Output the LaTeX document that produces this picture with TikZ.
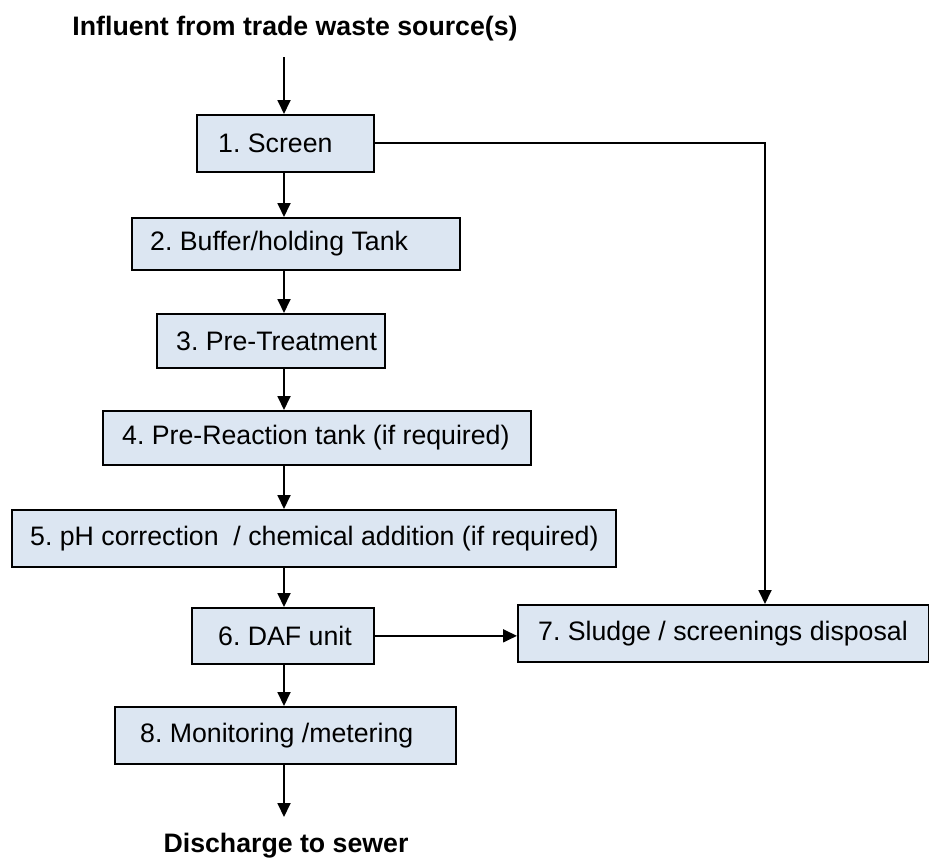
\documentclass[tikz,border=0pt]{standalone}
\usepackage{fontspec}
\setmainfont{Liberation Sans}
\usetikzlibrary{arrows.meta}
\definecolor{boxfill}{HTML}{DCE6F2}
\frenchspacing
\tikzset{
  procbox/.style={draw=black, fill=boxfill, line width=1.7pt, anchor=north west,
    inner xsep=0pt, inner ysep=0pt},
  boxtext/.style={anchor=west, inner sep=0pt, font=\fontsize{26.7}{32}\selectfont},
  arr/.style={line width=1.8pt, -{Triangle[length=14pt,width=13pt]}},
  endtext/.style={anchor=base, font=\fontsize{26.7}{32}\selectfont\bfseries}
}
\begin{document}
\begin{tikzpicture}[x=1pt,y=-1pt]
\useasboundingbox (0,0) rectangle (929,857);
\node[endtext] (src) at (295,35) {Influent from trade waste source(s)};
\node[procbox, minimum width=177pt, minimum height=57pt] (b1) at (196,114) {};
\node[boxtext] (t1) at ([xshift=22pt]b1.west) {1. Screen};
\node[procbox, minimum width=328pt, minimum height=52pt] (b2) at (131,217) {};
\node[boxtext] (t2) at ([xshift=19pt]b2.west) {2. Buffer/holding Tank};
\node[procbox, minimum width=228pt, minimum height=54pt] (b3) at (156,313) {};
\node[boxtext] (t3) at ([xshift=20pt]b3.west) {3. Pre-Treatment};
\node[procbox, minimum width=428pt, minimum height=54pt] (b4) at (102,410) {};
\node[boxtext] (t4) at ([xshift=20pt]b4.west) {4. Pre-Reaction tank (if required)};
\node[procbox, minimum width=604pt, minimum height=57pt] (b5) at (11,509) {};
\node[boxtext] (t5) at ([xshift=19pt]b5.west) {5. pH correction \ / chemical addition (if required)};
\node[procbox, minimum width=182pt, minimum height=56pt] (b6) at (191,607) {};
\node[boxtext] (t6) at ([xshift=27pt]b6.west) {6. DAF unit};
\node[procbox, minimum width=411pt, minimum height=57pt] (b7) at (517,604) {};
\node[boxtext] (t7) at ([xshift=21pt]b7.west) {7. Sludge / screenings disposal};
\node[procbox, minimum width=341pt, minimum height=57pt] (b8) at (114,706) {};
\node[boxtext] (t8) at ([xshift=26pt]b8.west) {8. Monitoring /metering};
\node[endtext] (out) at (286,852) {Discharge to sewer};
\coordinate (t0) at (284,57);
\coordinate (t9) at (284,817);
\coordinate (rx) at (765,0);
\draw[arr] (t0) -- (t0 |- b1.north);
\draw[arr] (b1.south -| t0) -- (b2.north -| t0);
\draw[arr] (b2.south -| t0) -- (b3.north -| t0);
\draw[arr] (b3.south -| t0) -- (b4.north -| t0);
\draw[arr] (b4.south -| t0) -- (b5.north -| t0);
\draw[arr] (b5.south -| t0) -- (b6.north -| t0);
\draw[arr] (b6.south -| t0) -- (b8.north -| t0);
\draw[arr] (b8.south -| t0) -- (t9);
\draw[arr] (b1.east) -| (rx |- b7.north);
\draw[arr] (b6.east) -- (b7.west |- b6.east);
\end{tikzpicture}
\end{document}
